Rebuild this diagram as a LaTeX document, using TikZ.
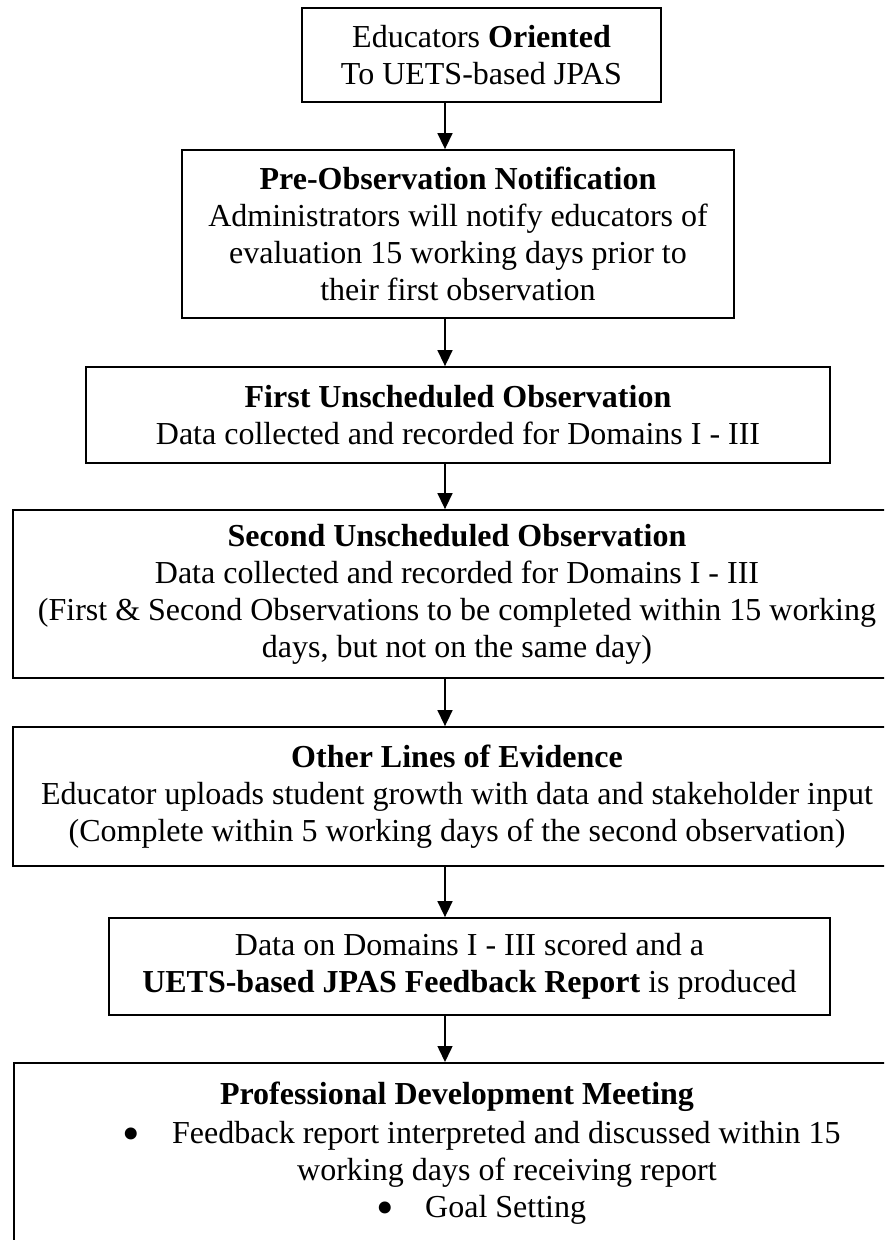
\documentclass[tikz,border=0pt]{standalone}
\usepackage{fontspec}
\setmainfont{Liberation Serif}
\usetikzlibrary{arrows.meta}
\tikzset{flowbox/.style={draw, line width=1.8pt, align=center, inner sep=0pt, font=\fontsize{32}{37}\selectfont},
	flowarrow/.style={-{Triangle[width=15pt,length=16pt]}, line width=1.5pt},
	boxtext/.style={inner sep=0pt, font=\fontsize{32}{37}\selectfont},
	bulletmark/.style={inner sep=0pt, font=\fontsize{50}{37}\selectfont},}

\begin{document}
\begin{tikzpicture}[x=1pt, y=-1pt]
	\useasboundingbox (0,0) rectangle (884,1240);
	\clip (0,0) rectangle (884,1240);
	\coordinate (spine) at (445,0);

	\node[flowbox, minimum width=359pt, minimum height=94pt] (orient) at (481.5,55) {Educators \textbf{Oriented}\\To UETS-based JPAS};
	\node[flowbox, minimum width=552pt, minimum height=168pt] (prenote) at (458,234) {\textbf{Pre-Observation Notification}\\Administrators will notify educators of\\evaluation 15 working days prior to\\their first observation};
	\node[flowbox, minimum width=744pt, minimum height=96pt] (firstobs) at (458,415) {\textbf{First Unscheduled Observation}\\Data collected and recorded for Domains I - III};
	\node[flowbox, minimum width=888pt, minimum height=168pt] (secondobs) at (457,594) {\textbf{Second Unscheduled Observation}\\Data collected and recorded for Domains I - III\\(First \& Second Observations to be completed within 15 working\\days, but not on the same day)};
	\node[flowbox, minimum width=888pt, minimum height=139pt] (evidence) at (457,796.5) {\textbf{Other Lines of Evidence}\\Educator uploads student growth with data and stakeholder input\\(Complete within 5 working days of the second observation)};
	\node[flowbox, minimum width=721pt, minimum height=97pt] (report) at (469.5,966.5) {Data on Domains I - III scored and a\\\textbf{UETS-based JPAS Feedback Report} is produced};
	\node[flowbox, minimum width=888pt, minimum height=230pt, anchor=north west] (meeting) at (13,1062) {};

	% text inside the last box
	\node[boxtext, anchor=base] (meettitle) at (457,1104.5) {\textbf{Professional Development Meeting}};
	\node[bulletmark, anchor=base] (dotone) at (131,1150) {\textbullet};
	\node[boxtext, anchor=base west] (itemone) at (172,1143.5) {Feedback report interpreted and discussed within 15};
	\node[boxtext, anchor=base west] (itemonecont) at (297,1180) {working days of receiving report};
	\node[bulletmark, anchor=base] (dottwo) at (385,1224) {\textbullet};
	\node[boxtext, anchor=base west] (itemtwo) at (425,1217.5) {Goal Setting};

	\draw[flowarrow] (orient.south -| spine) -- (prenote.north -| spine);
	\draw[flowarrow] (prenote.south -| spine) -- (firstobs.north -| spine);
	\draw[flowarrow] (firstobs.south -| spine) -- (secondobs.north -| spine);
	\draw[flowarrow] (secondobs.south -| spine) -- (evidence.north -| spine);
	\draw[flowarrow] (evidence.south -| spine) -- (report.north -| spine);
	\draw[flowarrow] (report.south -| spine) -- (meeting.north -| spine);
\end{tikzpicture}
\end{document}
